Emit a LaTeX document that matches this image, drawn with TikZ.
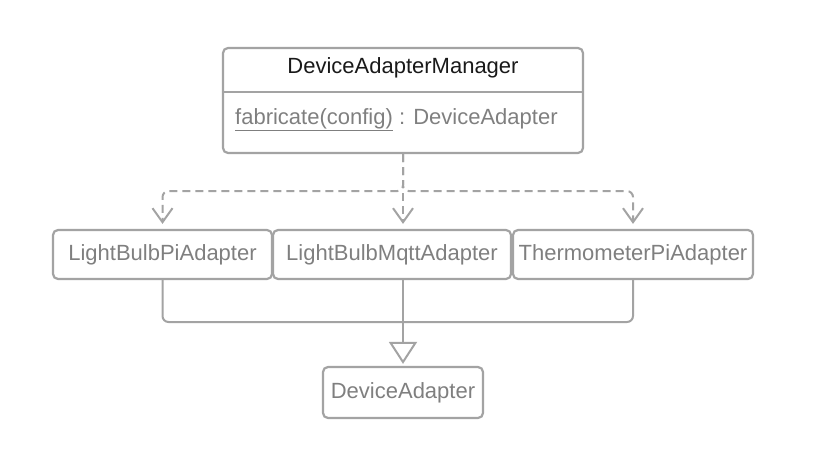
\documentclass[tikz,border=0pt]{standalone}
\usepackage{fontspec}
\setmainfont{Liberation Sans}
\usetikzlibrary{arrows.meta}

\definecolor{umlline}{HTML}{A3A3A3}
\definecolor{umltext}{HTML}{7F7F7F}

\tikzset{
  cls/.style={draw=umlline, line width=2.2pt, rounded corners=5pt,
    text=umltext, font=\fontsize{22}{26}\selectfont, inner sep=0pt},
  dep/.style={draw=umlline, line width=2pt, dash pattern=on 8pt off 5pt,
    rounded corners=6pt, shorten >=5pt,
    -{Straight Barb[length=14pt,width=20pt,line width=2pt]}},
  gen/.style={draw=umlline, line width=2pt, rounded corners=6pt},
}

\begin{document}
\begin{tikzpicture}[x=1pt,y=-1pt]
  \useasboundingbox (0,0) rectangle (818,462);
  % manager class
  \node[cls, minimum width=360pt, minimum height=105pt] (mgr) at (403,100.5) {};
  \draw[umlline, line width=2.2pt] (mgr.west |- 0,92) -- (mgr.east |- 0,92);
  \node[font=\fontsize{22}{26}\selectfont, text=black!90] (mgrname) at (403,68) {DeviceAdapterManager};
  \node[font=\fontsize{22}{26}\selectfont, text=umltext, anchor=west, inner sep=0pt]
    (mgrop) at (235,120) {\underline{fabricate(config)} : DeviceAdapter};
  % adapters
  \node[cls, minimum width=219pt, minimum height=49pt] (lpi) at (162.5,254.5) {LightBulbPiAdapter};
  \node[cls, minimum width=238pt, minimum height=49pt] (mqtt) at (392,254.5) {LightBulbMqttAdapter};
  \node[cls, minimum width=240pt, minimum height=49pt] (thermo) at (633,254.5) {ThermometerPiAdapter};
  \node[cls, minimum width=160pt, minimum height=51pt] (da) at (403,392.5) {DeviceAdapter};
  \coordinate (join) at (403,322);
  % dependencies
  \draw[dep] (mgr.south) -- ++(0,37) -| (lpi.north);
  \draw[dep] (mgr.south) -- ++(0,37) -| (thermo.north);
  \draw[dep] (mgr.south) -- (mgr.south |- mqtt.north);
  % generalisation
  \draw[gen] (lpi.south) |- (join);
  \draw[gen] (thermo.south) |- (join);
  \draw[gen, shorten >=2pt, -{Triangle[open,length=22pt,width=28pt,line width=2pt]}]
    (mqtt.south -| da.north) -- (da.north);
\end{tikzpicture}
\end{document}
